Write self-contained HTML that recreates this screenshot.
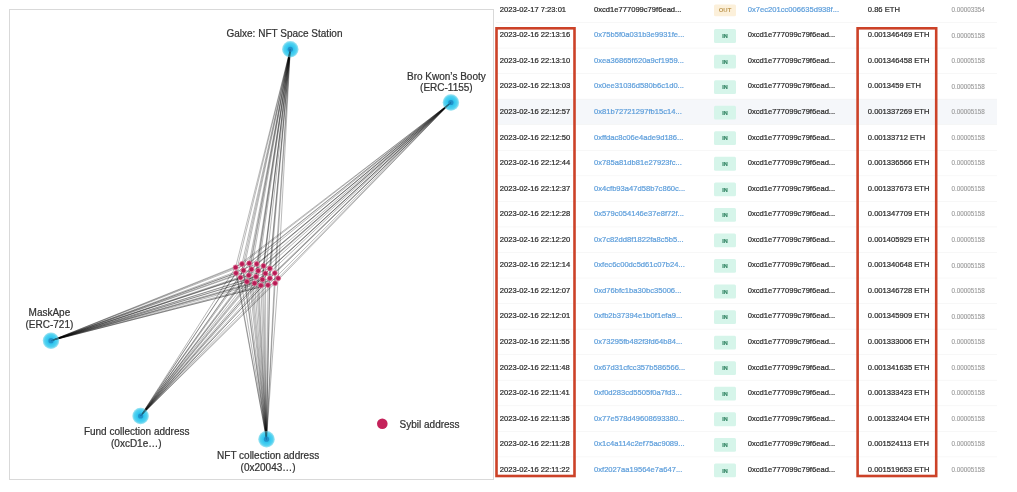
<!DOCTYPE html>
<html><head><meta charset="utf-8"><style>
html,body{margin:0;padding:0;background:#fff;width:1017px;height:492px;overflow:hidden}
body{position:relative;font-family:"Liberation Sans", sans-serif}
svg text{font-family:"Liberation Sans", sans-serif}
svg{filter:blur(0.3px)}
</style></head><body>
<svg width="1017" height="492" viewBox="0 0 1017 492" style="position:absolute;left:0;top:0">
<defs><radialGradient id="hg" cx="50%" cy="50%" r="50%"><stop offset="0%" stop-color="#2aa6dc"/><stop offset="45%" stop-color="#33c8f0"/><stop offset="78%" stop-color="#55d2f0"/><stop offset="100%" stop-color="#a6e6f3"/></radialGradient></defs>
<rect x="9.5" y="9.5" width="484" height="470" fill="#fff" stroke="#d9d9d9" stroke-width="1"/>
<circle cx="290.3" cy="49.3" r="8.2" fill="url(#hg)"/>
<circle cx="450.9" cy="102.5" r="8.2" fill="url(#hg)"/>
<circle cx="51.0" cy="340.7" r="8.2" fill="url(#hg)"/>
<circle cx="140.6" cy="416.0" r="8.2" fill="url(#hg)"/>
<circle cx="266.5" cy="439.2" r="8.2" fill="url(#hg)"/>
<path d="M242.0 264.0L290.3 49.3M249.2 263.3L290.3 49.3M256.7 264.0L290.3 49.3M263.5 265.9L290.3 49.3M269.9 268.5L290.3 49.3M235.6 267.4L290.3 49.3M243.5 270.4L290.3 49.3M251.4 269.3L290.3 49.3M258.2 270.8L290.3 49.3M265.4 273.4L290.3 49.3M274.8 273.1L290.3 49.3M236.0 273.1L290.3 49.3M248.8 275.3L290.3 49.3M256.0 276.8L290.3 49.3M269.9 278.3L290.3 49.3M278.2 278.3L290.3 49.3M240.5 277.6L290.3 49.3M246.9 281.7L290.3 49.3M254.5 283.2L290.3 49.3M262.4 279.5L290.3 49.3M275.1 283.2L290.3 49.3M260.9 285.5L290.3 49.3M268.0 285.1L290.3 49.3M242.0 264.0L450.9 102.5M249.2 263.3L450.9 102.5M256.7 264.0L450.9 102.5M263.5 265.9L450.9 102.5M269.9 268.5L450.9 102.5M235.6 267.4L450.9 102.5M243.5 270.4L450.9 102.5M251.4 269.3L450.9 102.5M258.2 270.8L450.9 102.5M265.4 273.4L450.9 102.5M274.8 273.1L450.9 102.5M236.0 273.1L450.9 102.5M248.8 275.3L450.9 102.5M256.0 276.8L450.9 102.5M269.9 278.3L450.9 102.5M278.2 278.3L450.9 102.5M240.5 277.6L450.9 102.5M246.9 281.7L450.9 102.5M254.5 283.2L450.9 102.5M262.4 279.5L450.9 102.5M275.1 283.2L450.9 102.5M260.9 285.5L450.9 102.5M268.0 285.1L450.9 102.5M242.0 264.0L51.0 340.7M249.2 263.3L51.0 340.7M256.7 264.0L51.0 340.7M263.5 265.9L51.0 340.7M269.9 268.5L51.0 340.7M235.6 267.4L51.0 340.7M243.5 270.4L51.0 340.7M251.4 269.3L51.0 340.7M258.2 270.8L51.0 340.7M265.4 273.4L51.0 340.7M274.8 273.1L51.0 340.7M236.0 273.1L51.0 340.7M248.8 275.3L51.0 340.7M256.0 276.8L51.0 340.7M269.9 278.3L51.0 340.7M278.2 278.3L51.0 340.7M240.5 277.6L51.0 340.7M246.9 281.7L51.0 340.7M254.5 283.2L51.0 340.7M262.4 279.5L51.0 340.7M275.1 283.2L51.0 340.7M260.9 285.5L51.0 340.7M268.0 285.1L51.0 340.7M242.0 264.0L140.6 416.0M249.2 263.3L140.6 416.0M256.7 264.0L140.6 416.0M263.5 265.9L140.6 416.0M269.9 268.5L140.6 416.0M235.6 267.4L140.6 416.0M243.5 270.4L140.6 416.0M251.4 269.3L140.6 416.0M258.2 270.8L140.6 416.0M265.4 273.4L140.6 416.0M274.8 273.1L140.6 416.0M236.0 273.1L140.6 416.0M248.8 275.3L140.6 416.0M256.0 276.8L140.6 416.0M269.9 278.3L140.6 416.0M278.2 278.3L140.6 416.0M240.5 277.6L140.6 416.0M246.9 281.7L140.6 416.0M254.5 283.2L140.6 416.0M262.4 279.5L140.6 416.0M275.1 283.2L140.6 416.0M260.9 285.5L140.6 416.0M268.0 285.1L140.6 416.0M242.0 264.0L266.5 439.2M249.2 263.3L266.5 439.2M256.7 264.0L266.5 439.2M263.5 265.9L266.5 439.2M269.9 268.5L266.5 439.2M235.6 267.4L266.5 439.2M243.5 270.4L266.5 439.2M251.4 269.3L266.5 439.2M258.2 270.8L266.5 439.2M265.4 273.4L266.5 439.2M274.8 273.1L266.5 439.2M236.0 273.1L266.5 439.2M248.8 275.3L266.5 439.2M256.0 276.8L266.5 439.2M269.9 278.3L266.5 439.2M278.2 278.3L266.5 439.2M240.5 277.6L266.5 439.2M246.9 281.7L266.5 439.2M254.5 283.2L266.5 439.2M262.4 279.5L266.5 439.2M275.1 283.2L266.5 439.2M260.9 285.5L266.5 439.2M268.0 285.1L266.5 439.2" stroke="#000" stroke-opacity="0.55" stroke-width="0.5" fill="none"/>
<circle cx="290.3" cy="49.3" r="8.2" fill="url(#hg)" fill-opacity="0.5"/>
<circle cx="290.3" cy="49.3" r="2.6" fill="#1b86c0" fill-opacity="0.75"/>
<circle cx="450.9" cy="102.5" r="8.2" fill="url(#hg)" fill-opacity="0.5"/>
<circle cx="450.9" cy="102.5" r="2.6" fill="#1b86c0" fill-opacity="0.75"/>
<circle cx="51.0" cy="340.7" r="8.2" fill="url(#hg)" fill-opacity="0.5"/>
<circle cx="51.0" cy="340.7" r="2.6" fill="#1b86c0" fill-opacity="0.75"/>
<circle cx="140.6" cy="416.0" r="8.2" fill="url(#hg)" fill-opacity="0.5"/>
<circle cx="140.6" cy="416.0" r="2.6" fill="#1b86c0" fill-opacity="0.75"/>
<circle cx="266.5" cy="439.2" r="8.2" fill="url(#hg)" fill-opacity="0.5"/>
<circle cx="266.5" cy="439.2" r="2.6" fill="#1b86c0" fill-opacity="0.75"/>
<circle cx="242.0" cy="264.0" r="2.45" fill="#b81b55" stroke="#de6f94" stroke-width="0.8"/>
<circle cx="249.2" cy="263.3" r="2.45" fill="#b81b55" stroke="#de6f94" stroke-width="0.8"/>
<circle cx="256.7" cy="264.0" r="2.45" fill="#b81b55" stroke="#de6f94" stroke-width="0.8"/>
<circle cx="263.5" cy="265.9" r="2.45" fill="#b81b55" stroke="#de6f94" stroke-width="0.8"/>
<circle cx="269.9" cy="268.5" r="2.45" fill="#b81b55" stroke="#de6f94" stroke-width="0.8"/>
<circle cx="235.6" cy="267.4" r="2.45" fill="#b81b55" stroke="#de6f94" stroke-width="0.8"/>
<circle cx="243.5" cy="270.4" r="2.45" fill="#b81b55" stroke="#de6f94" stroke-width="0.8"/>
<circle cx="251.4" cy="269.3" r="2.45" fill="#b81b55" stroke="#de6f94" stroke-width="0.8"/>
<circle cx="258.2" cy="270.8" r="2.45" fill="#b81b55" stroke="#de6f94" stroke-width="0.8"/>
<circle cx="265.4" cy="273.4" r="2.45" fill="#b81b55" stroke="#de6f94" stroke-width="0.8"/>
<circle cx="274.8" cy="273.1" r="2.45" fill="#b81b55" stroke="#de6f94" stroke-width="0.8"/>
<circle cx="236.0" cy="273.1" r="2.45" fill="#b81b55" stroke="#de6f94" stroke-width="0.8"/>
<circle cx="248.8" cy="275.3" r="2.45" fill="#b81b55" stroke="#de6f94" stroke-width="0.8"/>
<circle cx="256.0" cy="276.8" r="2.45" fill="#b81b55" stroke="#de6f94" stroke-width="0.8"/>
<circle cx="269.9" cy="278.3" r="2.45" fill="#b81b55" stroke="#de6f94" stroke-width="0.8"/>
<circle cx="278.2" cy="278.3" r="2.45" fill="#b81b55" stroke="#de6f94" stroke-width="0.8"/>
<circle cx="240.5" cy="277.6" r="2.45" fill="#b81b55" stroke="#de6f94" stroke-width="0.8"/>
<circle cx="246.9" cy="281.7" r="2.45" fill="#b81b55" stroke="#de6f94" stroke-width="0.8"/>
<circle cx="254.5" cy="283.2" r="2.45" fill="#b81b55" stroke="#de6f94" stroke-width="0.8"/>
<circle cx="262.4" cy="279.5" r="2.45" fill="#b81b55" stroke="#de6f94" stroke-width="0.8"/>
<circle cx="275.1" cy="283.2" r="2.45" fill="#b81b55" stroke="#de6f94" stroke-width="0.8"/>
<circle cx="260.9" cy="285.5" r="2.45" fill="#b81b55" stroke="#de6f94" stroke-width="0.8"/>
<circle cx="268.0" cy="285.1" r="2.45" fill="#b81b55" stroke="#de6f94" stroke-width="0.8"/>
<circle cx="382.3" cy="423.8" r="5.3" fill="#c4225a"/>
<rect x="496" y="22.23" width="501" height="0.6" fill="#f2f2f2"/>
<rect x="496" y="47.77" width="501" height="0.6" fill="#f2f2f2"/>
<rect x="496" y="73.33" width="501" height="0.6" fill="#f2f2f2"/>
<rect x="496" y="98.88" width="501" height="25.55" fill="#f5f7fa"/>
<rect x="496" y="98.88" width="501" height="0.6" fill="#f2f2f2"/>
<rect x="496" y="124.42" width="501" height="0.6" fill="#f2f2f2"/>
<rect x="496" y="149.97" width="501" height="0.6" fill="#f2f2f2"/>
<rect x="496" y="175.52" width="501" height="0.6" fill="#f2f2f2"/>
<rect x="496" y="201.07" width="501" height="0.6" fill="#f2f2f2"/>
<rect x="496" y="226.62" width="501" height="0.6" fill="#f2f2f2"/>
<rect x="496" y="252.17" width="501" height="0.6" fill="#f2f2f2"/>
<rect x="496" y="277.73" width="501" height="0.6" fill="#f2f2f2"/>
<rect x="496" y="303.28" width="501" height="0.6" fill="#f2f2f2"/>
<rect x="496" y="328.83" width="501" height="0.6" fill="#f2f2f2"/>
<rect x="496" y="354.38" width="501" height="0.6" fill="#f2f2f2"/>
<rect x="496" y="379.93" width="501" height="0.6" fill="#f2f2f2"/>
<rect x="496" y="405.48" width="501" height="0.6" fill="#f2f2f2"/>
<rect x="496" y="431.03" width="501" height="0.6" fill="#f2f2f2"/>
<rect x="496" y="456.58" width="501" height="0.6" fill="#f2f2f2"/>
<rect x="496.5" y="28.3" width="78" height="447.7" fill="none" stroke="#cc4228" stroke-width="2.6"/>
<rect x="857.6" y="28.3" width="78.6" height="447.7" fill="none" stroke="#cc4228" stroke-width="2.6"/>
<text x="284.5" y="36.8" font-size="10" fill="#333" stroke="#333" stroke-width="0.22" text-anchor="middle" font-weight="normal">Galxe: NFT Space Station</text>
<text x="446.4" y="79.9" font-size="10" fill="#333" stroke="#333" stroke-width="0.22" text-anchor="middle" font-weight="normal">Bro Kwon’s Booty</text>
<text x="446.4" y="91.1" font-size="10" fill="#333" stroke="#333" stroke-width="0.22" text-anchor="middle" font-weight="normal">(ERC-1155)</text>
<text x="49.4" y="315.7" font-size="10" fill="#333" stroke="#333" stroke-width="0.22" text-anchor="middle" font-weight="normal">MaskApe</text>
<text x="49.4" y="327.9" font-size="10" fill="#333" stroke="#333" stroke-width="0.22" text-anchor="middle" font-weight="normal">(ERC-721)</text>
<text x="136.7" y="434.5" font-size="10" fill="#333" stroke="#333" stroke-width="0.22" text-anchor="middle" font-weight="normal">Fund collection address</text>
<text x="136.3" y="446.7" font-size="10" fill="#333" stroke="#333" stroke-width="0.22" text-anchor="middle" font-weight="normal">(0xcD1e…)</text>
<text x="268.1" y="459.0" font-size="10" fill="#333" stroke="#333" stroke-width="0.22" text-anchor="middle" font-weight="normal">NFT collection address</text>
<text x="268.1" y="471.1" font-size="10" fill="#333" stroke="#333" stroke-width="0.22" text-anchor="middle" font-weight="normal">(0x20043…)</text>
<text x="399.6" y="427.8" font-size="10" fill="#333" stroke="#333" stroke-width="0.22" text-anchor="start" font-weight="normal">Sybil address</text>
<text x="499.8" y="11.80" font-size="7.6" fill="#2b2b2b" stroke="#2b2b2b" stroke-width="0.22" text-anchor="start" font-weight="normal">2023-02-17 7:23:01</text>
<text x="594" y="11.80" font-size="7.6" fill="#2b2b2b" stroke="#2b2b2b" stroke-width="0.22" text-anchor="start" font-weight="normal">0xcd1e777099c79f6ead...</text>
<rect x="714" y="4.55" width="22" height="11.8" rx="1.5" fill="#fcf0da"/>
<text x="725" y="12.45" font-size="6" fill="#bf9a55" stroke="#bf9a55" stroke-width="0" text-anchor="middle" font-weight="bold">OUT</text>
<text x="747.8" y="11.80" font-size="7.6" fill="#5f9fdb" stroke="#5f9fdb" stroke-width="0.22" text-anchor="start" font-weight="normal">0x7ec201cc006635d938f...</text>
<text x="867.8" y="11.80" font-size="7.6" fill="#2b2b2b" stroke="#2b2b2b" stroke-width="0.22" text-anchor="start" font-weight="normal">0.86 ETH</text>
<text x="951.4" y="12.00" font-size="6.3" fill="#9a9a9a" stroke="#9a9a9a" stroke-width="0.12" text-anchor="start" font-weight="normal">0.00003354</text>
<text x="499.8" y="37.35" font-size="7.6" fill="#2b2b2b" stroke="#2b2b2b" stroke-width="0.22" text-anchor="start" font-weight="normal">2023-02-16 22:13:16</text>
<text x="594" y="37.35" font-size="7.6" fill="#5f9fdb" stroke="#5f9fdb" stroke-width="0.22" text-anchor="start" font-weight="normal">0x75b5f0a031b3e9931fe...</text>
<rect x="714" y="29.10" width="22" height="13.8" rx="1.5" fill="#d6f5ea"/>
<text x="725" y="38.20" font-size="5.5" fill="#3a8a6a" stroke="#3a8a6a" stroke-width="0.22" text-anchor="middle" font-weight="bold">IN</text>
<text x="747.8" y="37.35" font-size="7.6" fill="#2b2b2b" stroke="#2b2b2b" stroke-width="0.22" text-anchor="start" font-weight="normal">0xcd1e777099c79f6ead...</text>
<text x="867.8" y="37.35" font-size="7.6" fill="#2b2b2b" stroke="#2b2b2b" stroke-width="0.22" text-anchor="start" font-weight="normal">0.001346469 ETH</text>
<text x="951.4" y="37.55" font-size="6.3" fill="#9a9a9a" stroke="#9a9a9a" stroke-width="0.12" text-anchor="start" font-weight="normal">0.00005158</text>
<text x="499.8" y="62.90" font-size="7.6" fill="#2b2b2b" stroke="#2b2b2b" stroke-width="0.22" text-anchor="start" font-weight="normal">2023-02-16 22:13:10</text>
<text x="594" y="62.90" font-size="7.6" fill="#5f9fdb" stroke="#5f9fdb" stroke-width="0.22" text-anchor="start" font-weight="normal">0xea36865f620a9cf1959...</text>
<rect x="714" y="54.65" width="22" height="13.8" rx="1.5" fill="#d6f5ea"/>
<text x="725" y="63.75" font-size="5.5" fill="#3a8a6a" stroke="#3a8a6a" stroke-width="0.22" text-anchor="middle" font-weight="bold">IN</text>
<text x="747.8" y="62.90" font-size="7.6" fill="#2b2b2b" stroke="#2b2b2b" stroke-width="0.22" text-anchor="start" font-weight="normal">0xcd1e777099c79f6ead...</text>
<text x="867.8" y="62.90" font-size="7.6" fill="#2b2b2b" stroke="#2b2b2b" stroke-width="0.22" text-anchor="start" font-weight="normal">0.001346458 ETH</text>
<text x="951.4" y="63.10" font-size="6.3" fill="#9a9a9a" stroke="#9a9a9a" stroke-width="0.12" text-anchor="start" font-weight="normal">0.00005158</text>
<text x="499.8" y="88.45" font-size="7.6" fill="#2b2b2b" stroke="#2b2b2b" stroke-width="0.22" text-anchor="start" font-weight="normal">2023-02-16 22:13:03</text>
<text x="594" y="88.45" font-size="7.6" fill="#5f9fdb" stroke="#5f9fdb" stroke-width="0.22" text-anchor="start" font-weight="normal">0x0ee31036d580b6c1d0...</text>
<rect x="714" y="80.20" width="22" height="13.8" rx="1.5" fill="#d6f5ea"/>
<text x="725" y="89.30" font-size="5.5" fill="#3a8a6a" stroke="#3a8a6a" stroke-width="0.22" text-anchor="middle" font-weight="bold">IN</text>
<text x="747.8" y="88.45" font-size="7.6" fill="#2b2b2b" stroke="#2b2b2b" stroke-width="0.22" text-anchor="start" font-weight="normal">0xcd1e777099c79f6ead...</text>
<text x="867.8" y="88.45" font-size="7.6" fill="#2b2b2b" stroke="#2b2b2b" stroke-width="0.22" text-anchor="start" font-weight="normal">0.0013459 ETH</text>
<text x="951.4" y="88.65" font-size="6.3" fill="#9a9a9a" stroke="#9a9a9a" stroke-width="0.12" text-anchor="start" font-weight="normal">0.00005158</text>
<text x="499.8" y="114.00" font-size="7.6" fill="#2b2b2b" stroke="#2b2b2b" stroke-width="0.22" text-anchor="start" font-weight="normal">2023-02-16 22:12:57</text>
<text x="594" y="114.00" font-size="7.6" fill="#5f9fdb" stroke="#5f9fdb" stroke-width="0.22" text-anchor="start" font-weight="normal">0x81b72721297fb15c14...</text>
<rect x="714" y="105.75" width="22" height="13.8" rx="1.5" fill="#d6f5ea"/>
<text x="725" y="114.85" font-size="5.5" fill="#3a8a6a" stroke="#3a8a6a" stroke-width="0.22" text-anchor="middle" font-weight="bold">IN</text>
<text x="747.8" y="114.00" font-size="7.6" fill="#2b2b2b" stroke="#2b2b2b" stroke-width="0.22" text-anchor="start" font-weight="normal">0xcd1e777099c79f6ead...</text>
<text x="867.8" y="114.00" font-size="7.6" fill="#2b2b2b" stroke="#2b2b2b" stroke-width="0.22" text-anchor="start" font-weight="normal">0.001337269 ETH</text>
<text x="951.4" y="114.20" font-size="6.3" fill="#9a9a9a" stroke="#9a9a9a" stroke-width="0.12" text-anchor="start" font-weight="normal">0.00005158</text>
<text x="499.8" y="139.55" font-size="7.6" fill="#2b2b2b" stroke="#2b2b2b" stroke-width="0.22" text-anchor="start" font-weight="normal">2023-02-16 22:12:50</text>
<text x="594" y="139.55" font-size="7.6" fill="#5f9fdb" stroke="#5f9fdb" stroke-width="0.22" text-anchor="start" font-weight="normal">0xffdac8c06e4ade9d186...</text>
<rect x="714" y="131.30" width="22" height="13.8" rx="1.5" fill="#d6f5ea"/>
<text x="725" y="140.40" font-size="5.5" fill="#3a8a6a" stroke="#3a8a6a" stroke-width="0.22" text-anchor="middle" font-weight="bold">IN</text>
<text x="747.8" y="139.55" font-size="7.6" fill="#2b2b2b" stroke="#2b2b2b" stroke-width="0.22" text-anchor="start" font-weight="normal">0xcd1e777099c79f6ead...</text>
<text x="867.8" y="139.55" font-size="7.6" fill="#2b2b2b" stroke="#2b2b2b" stroke-width="0.22" text-anchor="start" font-weight="normal">0.00133712 ETH</text>
<text x="951.4" y="139.75" font-size="6.3" fill="#9a9a9a" stroke="#9a9a9a" stroke-width="0.12" text-anchor="start" font-weight="normal">0.00005158</text>
<text x="499.8" y="165.10" font-size="7.6" fill="#2b2b2b" stroke="#2b2b2b" stroke-width="0.22" text-anchor="start" font-weight="normal">2023-02-16 22:12:44</text>
<text x="594" y="165.10" font-size="7.6" fill="#5f9fdb" stroke="#5f9fdb" stroke-width="0.22" text-anchor="start" font-weight="normal">0x785a81db81e27923fc...</text>
<rect x="714" y="156.85" width="22" height="13.8" rx="1.5" fill="#d6f5ea"/>
<text x="725" y="165.95" font-size="5.5" fill="#3a8a6a" stroke="#3a8a6a" stroke-width="0.22" text-anchor="middle" font-weight="bold">IN</text>
<text x="747.8" y="165.10" font-size="7.6" fill="#2b2b2b" stroke="#2b2b2b" stroke-width="0.22" text-anchor="start" font-weight="normal">0xcd1e777099c79f6ead...</text>
<text x="867.8" y="165.10" font-size="7.6" fill="#2b2b2b" stroke="#2b2b2b" stroke-width="0.22" text-anchor="start" font-weight="normal">0.001336566 ETH</text>
<text x="951.4" y="165.30" font-size="6.3" fill="#9a9a9a" stroke="#9a9a9a" stroke-width="0.12" text-anchor="start" font-weight="normal">0.00005158</text>
<text x="499.8" y="190.65" font-size="7.6" fill="#2b2b2b" stroke="#2b2b2b" stroke-width="0.22" text-anchor="start" font-weight="normal">2023-02-16 22:12:37</text>
<text x="594" y="190.65" font-size="7.6" fill="#5f9fdb" stroke="#5f9fdb" stroke-width="0.22" text-anchor="start" font-weight="normal">0x4cfb93a47d58b7c860c...</text>
<rect x="714" y="182.40" width="22" height="13.8" rx="1.5" fill="#d6f5ea"/>
<text x="725" y="191.50" font-size="5.5" fill="#3a8a6a" stroke="#3a8a6a" stroke-width="0.22" text-anchor="middle" font-weight="bold">IN</text>
<text x="747.8" y="190.65" font-size="7.6" fill="#2b2b2b" stroke="#2b2b2b" stroke-width="0.22" text-anchor="start" font-weight="normal">0xcd1e777099c79f6ead...</text>
<text x="867.8" y="190.65" font-size="7.6" fill="#2b2b2b" stroke="#2b2b2b" stroke-width="0.22" text-anchor="start" font-weight="normal">0.001337673 ETH</text>
<text x="951.4" y="190.85" font-size="6.3" fill="#9a9a9a" stroke="#9a9a9a" stroke-width="0.12" text-anchor="start" font-weight="normal">0.00005158</text>
<text x="499.8" y="216.20" font-size="7.6" fill="#2b2b2b" stroke="#2b2b2b" stroke-width="0.22" text-anchor="start" font-weight="normal">2023-02-16 22:12:28</text>
<text x="594" y="216.20" font-size="7.6" fill="#5f9fdb" stroke="#5f9fdb" stroke-width="0.22" text-anchor="start" font-weight="normal">0x579c054146e37e8f72f...</text>
<rect x="714" y="207.95" width="22" height="13.8" rx="1.5" fill="#d6f5ea"/>
<text x="725" y="217.05" font-size="5.5" fill="#3a8a6a" stroke="#3a8a6a" stroke-width="0.22" text-anchor="middle" font-weight="bold">IN</text>
<text x="747.8" y="216.20" font-size="7.6" fill="#2b2b2b" stroke="#2b2b2b" stroke-width="0.22" text-anchor="start" font-weight="normal">0xcd1e777099c79f6ead...</text>
<text x="867.8" y="216.20" font-size="7.6" fill="#2b2b2b" stroke="#2b2b2b" stroke-width="0.22" text-anchor="start" font-weight="normal">0.001347709 ETH</text>
<text x="951.4" y="216.40" font-size="6.3" fill="#9a9a9a" stroke="#9a9a9a" stroke-width="0.12" text-anchor="start" font-weight="normal">0.00005158</text>
<text x="499.8" y="241.75" font-size="7.6" fill="#2b2b2b" stroke="#2b2b2b" stroke-width="0.22" text-anchor="start" font-weight="normal">2023-02-16 22:12:20</text>
<text x="594" y="241.75" font-size="7.6" fill="#5f9fdb" stroke="#5f9fdb" stroke-width="0.22" text-anchor="start" font-weight="normal">0x7c82dd8f1822fa8c5b5...</text>
<rect x="714" y="233.50" width="22" height="13.8" rx="1.5" fill="#d6f5ea"/>
<text x="725" y="242.60" font-size="5.5" fill="#3a8a6a" stroke="#3a8a6a" stroke-width="0.22" text-anchor="middle" font-weight="bold">IN</text>
<text x="747.8" y="241.75" font-size="7.6" fill="#2b2b2b" stroke="#2b2b2b" stroke-width="0.22" text-anchor="start" font-weight="normal">0xcd1e777099c79f6ead...</text>
<text x="867.8" y="241.75" font-size="7.6" fill="#2b2b2b" stroke="#2b2b2b" stroke-width="0.22" text-anchor="start" font-weight="normal">0.001405929 ETH</text>
<text x="951.4" y="241.95" font-size="6.3" fill="#9a9a9a" stroke="#9a9a9a" stroke-width="0.12" text-anchor="start" font-weight="normal">0.00005158</text>
<text x="499.8" y="267.30" font-size="7.6" fill="#2b2b2b" stroke="#2b2b2b" stroke-width="0.22" text-anchor="start" font-weight="normal">2023-02-16 22:12:14</text>
<text x="594" y="267.30" font-size="7.6" fill="#5f9fdb" stroke="#5f9fdb" stroke-width="0.22" text-anchor="start" font-weight="normal">0xfec6c00dc5d61c07b24...</text>
<rect x="714" y="259.05" width="22" height="13.8" rx="1.5" fill="#d6f5ea"/>
<text x="725" y="268.15" font-size="5.5" fill="#3a8a6a" stroke="#3a8a6a" stroke-width="0.22" text-anchor="middle" font-weight="bold">IN</text>
<text x="747.8" y="267.30" font-size="7.6" fill="#2b2b2b" stroke="#2b2b2b" stroke-width="0.22" text-anchor="start" font-weight="normal">0xcd1e777099c79f6ead...</text>
<text x="867.8" y="267.30" font-size="7.6" fill="#2b2b2b" stroke="#2b2b2b" stroke-width="0.22" text-anchor="start" font-weight="normal">0.001340648 ETH</text>
<text x="951.4" y="267.50" font-size="6.3" fill="#9a9a9a" stroke="#9a9a9a" stroke-width="0.12" text-anchor="start" font-weight="normal">0.00005158</text>
<text x="499.8" y="292.85" font-size="7.6" fill="#2b2b2b" stroke="#2b2b2b" stroke-width="0.22" text-anchor="start" font-weight="normal">2023-02-16 22:12:07</text>
<text x="594" y="292.85" font-size="7.6" fill="#5f9fdb" stroke="#5f9fdb" stroke-width="0.22" text-anchor="start" font-weight="normal">0xd76bfc1ba30bc35006...</text>
<rect x="714" y="284.60" width="22" height="13.8" rx="1.5" fill="#d6f5ea"/>
<text x="725" y="293.70" font-size="5.5" fill="#3a8a6a" stroke="#3a8a6a" stroke-width="0.22" text-anchor="middle" font-weight="bold">IN</text>
<text x="747.8" y="292.85" font-size="7.6" fill="#2b2b2b" stroke="#2b2b2b" stroke-width="0.22" text-anchor="start" font-weight="normal">0xcd1e777099c79f6ead...</text>
<text x="867.8" y="292.85" font-size="7.6" fill="#2b2b2b" stroke="#2b2b2b" stroke-width="0.22" text-anchor="start" font-weight="normal">0.001346728 ETH</text>
<text x="951.4" y="293.05" font-size="6.3" fill="#9a9a9a" stroke="#9a9a9a" stroke-width="0.12" text-anchor="start" font-weight="normal">0.00005158</text>
<text x="499.8" y="318.40" font-size="7.6" fill="#2b2b2b" stroke="#2b2b2b" stroke-width="0.22" text-anchor="start" font-weight="normal">2023-02-16 22:12:01</text>
<text x="594" y="318.40" font-size="7.6" fill="#5f9fdb" stroke="#5f9fdb" stroke-width="0.22" text-anchor="start" font-weight="normal">0xfb2b37394e1b0f1efa9...</text>
<rect x="714" y="310.15" width="22" height="13.8" rx="1.5" fill="#d6f5ea"/>
<text x="725" y="319.25" font-size="5.5" fill="#3a8a6a" stroke="#3a8a6a" stroke-width="0.22" text-anchor="middle" font-weight="bold">IN</text>
<text x="747.8" y="318.40" font-size="7.6" fill="#2b2b2b" stroke="#2b2b2b" stroke-width="0.22" text-anchor="start" font-weight="normal">0xcd1e777099c79f6ead...</text>
<text x="867.8" y="318.40" font-size="7.6" fill="#2b2b2b" stroke="#2b2b2b" stroke-width="0.22" text-anchor="start" font-weight="normal">0.001345909 ETH</text>
<text x="951.4" y="318.60" font-size="6.3" fill="#9a9a9a" stroke="#9a9a9a" stroke-width="0.12" text-anchor="start" font-weight="normal">0.00005158</text>
<text x="499.8" y="343.95" font-size="7.6" fill="#2b2b2b" stroke="#2b2b2b" stroke-width="0.22" text-anchor="start" font-weight="normal">2023-02-16 22:11:55</text>
<text x="594" y="343.95" font-size="7.6" fill="#5f9fdb" stroke="#5f9fdb" stroke-width="0.22" text-anchor="start" font-weight="normal">0x73295fb482f3fd64b84...</text>
<rect x="714" y="335.70" width="22" height="13.8" rx="1.5" fill="#d6f5ea"/>
<text x="725" y="344.80" font-size="5.5" fill="#3a8a6a" stroke="#3a8a6a" stroke-width="0.22" text-anchor="middle" font-weight="bold">IN</text>
<text x="747.8" y="343.95" font-size="7.6" fill="#2b2b2b" stroke="#2b2b2b" stroke-width="0.22" text-anchor="start" font-weight="normal">0xcd1e777099c79f6ead...</text>
<text x="867.8" y="343.95" font-size="7.6" fill="#2b2b2b" stroke="#2b2b2b" stroke-width="0.22" text-anchor="start" font-weight="normal">0.001333006 ETH</text>
<text x="951.4" y="344.15" font-size="6.3" fill="#9a9a9a" stroke="#9a9a9a" stroke-width="0.12" text-anchor="start" font-weight="normal">0.00005158</text>
<text x="499.8" y="369.50" font-size="7.6" fill="#2b2b2b" stroke="#2b2b2b" stroke-width="0.22" text-anchor="start" font-weight="normal">2023-02-16 22:11:48</text>
<text x="594" y="369.50" font-size="7.6" fill="#5f9fdb" stroke="#5f9fdb" stroke-width="0.22" text-anchor="start" font-weight="normal">0x67d31cfcc357b586566...</text>
<rect x="714" y="361.25" width="22" height="13.8" rx="1.5" fill="#d6f5ea"/>
<text x="725" y="370.35" font-size="5.5" fill="#3a8a6a" stroke="#3a8a6a" stroke-width="0.22" text-anchor="middle" font-weight="bold">IN</text>
<text x="747.8" y="369.50" font-size="7.6" fill="#2b2b2b" stroke="#2b2b2b" stroke-width="0.22" text-anchor="start" font-weight="normal">0xcd1e777099c79f6ead...</text>
<text x="867.8" y="369.50" font-size="7.6" fill="#2b2b2b" stroke="#2b2b2b" stroke-width="0.22" text-anchor="start" font-weight="normal">0.001341635 ETH</text>
<text x="951.4" y="369.70" font-size="6.3" fill="#9a9a9a" stroke="#9a9a9a" stroke-width="0.12" text-anchor="start" font-weight="normal">0.00005158</text>
<text x="499.8" y="395.05" font-size="7.6" fill="#2b2b2b" stroke="#2b2b2b" stroke-width="0.22" text-anchor="start" font-weight="normal">2023-02-16 22:11:41</text>
<text x="594" y="395.05" font-size="7.6" fill="#5f9fdb" stroke="#5f9fdb" stroke-width="0.22" text-anchor="start" font-weight="normal">0xf0d283cd5505f0a7fd3...</text>
<rect x="714" y="386.80" width="22" height="13.8" rx="1.5" fill="#d6f5ea"/>
<text x="725" y="395.90" font-size="5.5" fill="#3a8a6a" stroke="#3a8a6a" stroke-width="0.22" text-anchor="middle" font-weight="bold">IN</text>
<text x="747.8" y="395.05" font-size="7.6" fill="#2b2b2b" stroke="#2b2b2b" stroke-width="0.22" text-anchor="start" font-weight="normal">0xcd1e777099c79f6ead...</text>
<text x="867.8" y="395.05" font-size="7.6" fill="#2b2b2b" stroke="#2b2b2b" stroke-width="0.22" text-anchor="start" font-weight="normal">0.001333423 ETH</text>
<text x="951.4" y="395.25" font-size="6.3" fill="#9a9a9a" stroke="#9a9a9a" stroke-width="0.12" text-anchor="start" font-weight="normal">0.00005158</text>
<text x="499.8" y="420.60" font-size="7.6" fill="#2b2b2b" stroke="#2b2b2b" stroke-width="0.22" text-anchor="start" font-weight="normal">2023-02-16 22:11:35</text>
<text x="594" y="420.60" font-size="7.6" fill="#5f9fdb" stroke="#5f9fdb" stroke-width="0.22" text-anchor="start" font-weight="normal">0x77e578d49608693380...</text>
<rect x="714" y="412.35" width="22" height="13.8" rx="1.5" fill="#d6f5ea"/>
<text x="725" y="421.45" font-size="5.5" fill="#3a8a6a" stroke="#3a8a6a" stroke-width="0.22" text-anchor="middle" font-weight="bold">IN</text>
<text x="747.8" y="420.60" font-size="7.6" fill="#2b2b2b" stroke="#2b2b2b" stroke-width="0.22" text-anchor="start" font-weight="normal">0xcd1e777099c79f6ead...</text>
<text x="867.8" y="420.60" font-size="7.6" fill="#2b2b2b" stroke="#2b2b2b" stroke-width="0.22" text-anchor="start" font-weight="normal">0.001332404 ETH</text>
<text x="951.4" y="420.80" font-size="6.3" fill="#9a9a9a" stroke="#9a9a9a" stroke-width="0.12" text-anchor="start" font-weight="normal">0.00005158</text>
<text x="499.8" y="446.15" font-size="7.6" fill="#2b2b2b" stroke="#2b2b2b" stroke-width="0.22" text-anchor="start" font-weight="normal">2023-02-16 22:11:28</text>
<text x="594" y="446.15" font-size="7.6" fill="#5f9fdb" stroke="#5f9fdb" stroke-width="0.22" text-anchor="start" font-weight="normal">0x1c4a114c2ef75ac9089...</text>
<rect x="714" y="437.90" width="22" height="13.8" rx="1.5" fill="#d6f5ea"/>
<text x="725" y="447.00" font-size="5.5" fill="#3a8a6a" stroke="#3a8a6a" stroke-width="0.22" text-anchor="middle" font-weight="bold">IN</text>
<text x="747.8" y="446.15" font-size="7.6" fill="#2b2b2b" stroke="#2b2b2b" stroke-width="0.22" text-anchor="start" font-weight="normal">0xcd1e777099c79f6ead...</text>
<text x="867.8" y="446.15" font-size="7.6" fill="#2b2b2b" stroke="#2b2b2b" stroke-width="0.22" text-anchor="start" font-weight="normal">0.001524113 ETH</text>
<text x="951.4" y="446.35" font-size="6.3" fill="#9a9a9a" stroke="#9a9a9a" stroke-width="0.12" text-anchor="start" font-weight="normal">0.00005158</text>
<text x="499.8" y="471.70" font-size="7.6" fill="#2b2b2b" stroke="#2b2b2b" stroke-width="0.22" text-anchor="start" font-weight="normal">2023-02-16 22:11:22</text>
<text x="594" y="471.70" font-size="7.6" fill="#5f9fdb" stroke="#5f9fdb" stroke-width="0.22" text-anchor="start" font-weight="normal">0xf2027aa19564e7a647...</text>
<rect x="714" y="463.45" width="22" height="13.8" rx="1.5" fill="#d6f5ea"/>
<text x="725" y="472.55" font-size="5.5" fill="#3a8a6a" stroke="#3a8a6a" stroke-width="0.22" text-anchor="middle" font-weight="bold">IN</text>
<text x="747.8" y="471.70" font-size="7.6" fill="#2b2b2b" stroke="#2b2b2b" stroke-width="0.22" text-anchor="start" font-weight="normal">0xcd1e777099c79f6ead...</text>
<text x="867.8" y="471.70" font-size="7.6" fill="#2b2b2b" stroke="#2b2b2b" stroke-width="0.22" text-anchor="start" font-weight="normal">0.001519653 ETH</text>
<text x="951.4" y="471.90" font-size="6.3" fill="#9a9a9a" stroke="#9a9a9a" stroke-width="0.12" text-anchor="start" font-weight="normal">0.00005158</text>
</svg>
</body></html>
